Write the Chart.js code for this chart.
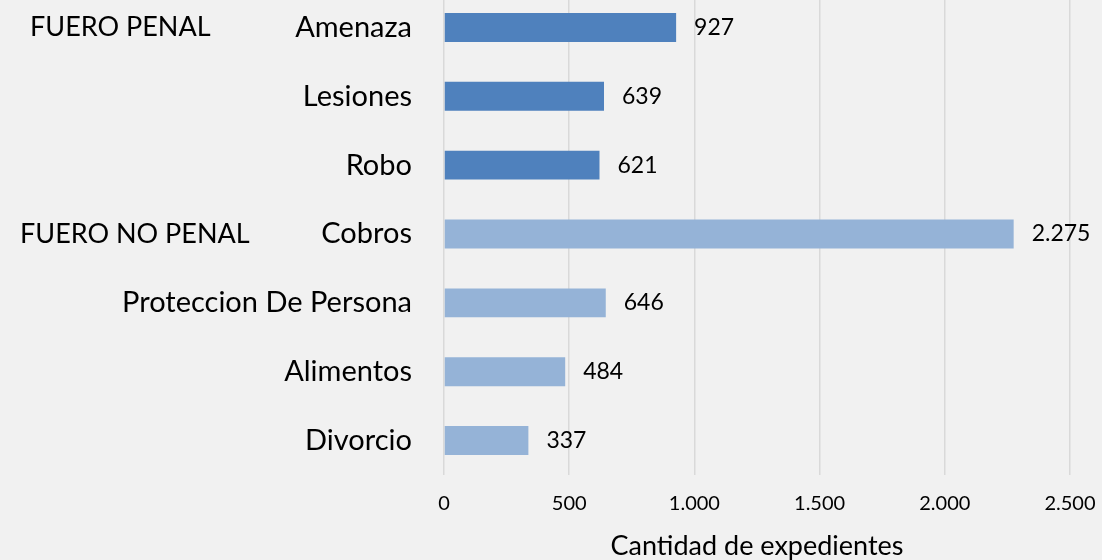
<!DOCTYPE html>
<html>
<head>
<meta charset="utf-8">
<script src="https://cdn.jsdelivr.net/npm/chart.js@4"></script>
<style>
  html, body { margin: 0; padding: 0; background: #f1f1f1; overflow: hidden; }
  #wrap { position: relative; width: 1102px; height: 567px; margin-top: -7px; }
</style>
</head>
<body>
<div id="wrap"><canvas id="chart"></canvas></div>
<script>
// data
var categories = ["Amenaza", "Lesiones", "Robo", "Cobros", "Proteccion De Persona", "Alimentos", "Divorcio"];
var expedientes = [927, 639, 621, 2275, 646, 484, 337];
var groupLabels = ["FUERO PENAL", "", "", "FUERO NO PENAL", "", "", ""];
var xTicks = [0, 500, 1000, 1500, 2000, 2500];

var penalColor = "#4f81bd";
var noPenalColor = "#95b3d7";
var barColors = categories.map(function(c, i) { return i < 3 ? penalColor : noPenalColor; });

var FONT = "Lato, 'Open Sans', sans-serif";

function fmt(v) {
  return String(v).replace(/\B(?=(\d{3})+(?!\d))/g, ".");
}

// value labels at the end of each bar
var valueLabels = {
  id: "valueLabels",
  afterDatasetsDraw: function(chart) {
    var ctx = chart.ctx;
    var meta = chart.getDatasetMeta(0);
    ctx.save();
    ctx.font = "23px " + FONT;
    ctx.fillStyle = "#000";
    ctx.textBaseline = "middle";
    ctx.textAlign = "left";
    meta.data.forEach(function(bar, i) {
      ctx.fillText(fmt(expedientes[i]), bar.x + 18, bar.y);
    });
    ctx.restore();
  }
};

// group labels on the far left
var groupText = {
  id: "groupText",
  afterDraw: function(chart, args, opts) {
    var ctx = chart.ctx;
    var y = chart.scales.y;
    ctx.save();
    ctx.font = "27px " + FONT;
    ctx.fillStyle = "#000";
    ctx.textBaseline = "middle";
    var k = 0;
    groupLabels.forEach(function(g, i) {
      if (!g) return;
      ctx.fillText(g, opts.left[k++], y.getPixelForValue(i));
    });
    ctx.restore();
  }
};

new Chart(document.getElementById("chart"), {
  type: "bar",
  data: {
    labels: categories,
    datasets: [{
      data: expedientes,
      backgroundColor: barColors,
      barPercentage: 0.5,
      categoryPercentage: 0.84
    }]
  },
  options: {
    indexAxis: "y",
    responsive: true,
    maintainAspectRatio: false,
    animation: false,
    layout: { padding: { left: 0, right: 32, top: 0, bottom: 0 } },
    plugins: {
      legend: { display: false },
      tooltip: { enabled: false },
      groupText: { left: [30, 20] }
    },
    scales: {
      x: {
        min: xTicks[0],
        max: xTicks[xTicks.length - 1],
        afterBuildTicks: function(scale) {
          scale.ticks = xTicks.map(function(v) { return { value: v }; });
        },
        afterFit: function(scale) { scale.paddingLeft = 0; scale.paddingRight = 0; },
        grid: { color: "#d9d9d9", lineWidth: 1.5, drawTicks: false },
        border: { display: false },
        ticks: {
          padding: 17,
          color: "#000",
          font: { family: FONT, size: 20 },
          callback: function(v) { return fmt(v); }
        },
        title: {
          display: true,
          text: "Cantidad de expedientes",
          color: "#000",
          font: { family: FONT, size: 27, lineHeight: 1.0 },
          padding: { top: 0, bottom: 0 }
        }
      },
      y: {
        afterFit: function(scale) {
          scale.width = 444;
          scale.paddingTop = 0;
          scale.paddingBottom = 0;
        },
        grid: { display: false, drawTicks: false },
        border: { display: false },
        ticks: {
          padding: 32,
          color: "#000",
          font: { family: FONT, size: 29 }
        }
      }
    }
  },
  plugins: [valueLabels, groupText]
});
</script>
</body>
</html>
